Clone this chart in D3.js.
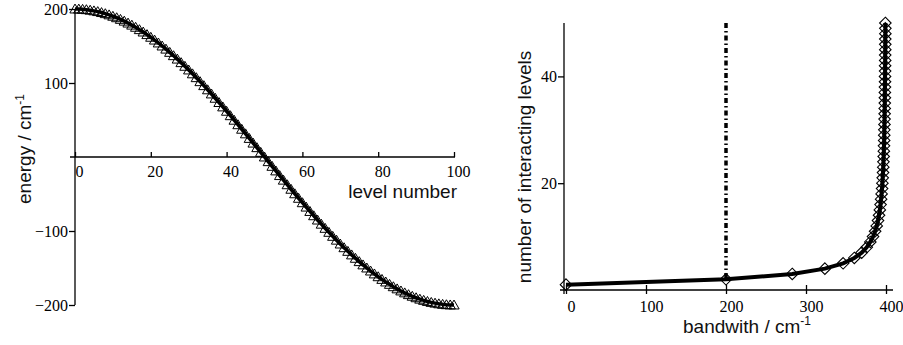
<!DOCTYPE html>
<html>
<head>
<meta charset="UTF-8">
<title>levels</title>
<script src="https://d3js.org/d3.v7.min.js"></script>
<style>
  body { margin: 0; background: #fff; }
  .tick text { font-family: "Liberation Serif", serif; font-size: 16px; fill: #000; }
  .lab { font-family: "Liberation Sans", Arial, sans-serif; font-size: 19px; fill: #111; }
</style>
</head>
<body>
<div id="chart"></div>
<script>
// left panel: level energies
var energyPos = [200, 199.9, 199.6, 199.1, 198.4, 197.5, 196.5, 195.2, 193.7, 192.1,
  190.2, 188.2, 186.0, 183.6, 181.0, 178.2, 175.3, 172.1, 168.9, 165.4,
  161.8, 158.0, 154.1, 150.0, 145.8, 141.4, 136.9, 132.3, 127.5, 122.6,
  117.6, 112.4, 107.2, 101.8, 96.4, 90.8, 85.2, 79.4, 73.6, 67.7,
  61.8, 55.8, 49.7, 43.6, 37.5, 31.3, 25.1, 18.8, 12.6, 6.3, 0];
var energyNeg = [-6.3, -12.6, -18.8, -25.1, -31.3, -37.5, -43.6, -49.7, -55.8, -61.8,
  -67.7, -73.6, -79.4, -85.2, -90.8, -96.4, -101.8, -107.2, -112.4, -117.6,
  -122.6, -127.5, -132.3, -136.9, -141.4, -145.8, -150.0, -154.1, -158.0, -161.8,
  -165.4, -168.9, -172.1, -175.3, -178.2, -181.0, -183.6, -186.0, -188.2, -190.2,
  -192.1, -193.7, -195.2, -196.5, -197.5, -198.4, -199.1, -199.6, -199.9, -200];
var energies = energyPos.concat(energyNeg);
var levelTicks = [0, 20, 40, 60, 80, 100];
var energyTicks = [-200, -100, 100, 200];

// right panel: bandwidth vs number of interacting levels (n = 1..50)
var bandwidths = [0, 200, 282.8, 323.6, 346.4, 360.4, 369.6, 375.9, 380.4, 383.8,
  386.4, 388.4, 390.0, 391.3, 392.3, 393.2, 393.9, 394.5, 395.1, 395.5,
  395.9, 396.3, 396.6, 396.8, 397.1, 397.3, 397.5, 397.7, 397.8, 397.9,
  398.1, 398.2, 398.3, 398.4, 398.5, 398.6, 398.6, 398.7, 398.8, 398.8,
  398.9, 398.9, 399.0, 399.0, 399.1, 399.1, 399.1, 399.2, 399.2, 399.2];
var bandTicks = [0, 100, 200, 300, 400];
var countTicks = [20, 40];
var cutoff = 200;

var svg = d3.select('#chart').append('svg')
  .attr('width', 903).attr('height', 345);

function styleAxis(g) {
  g.select('.domain').remove();
  g.selectAll('.tick line').attr('stroke', '#000').attr('stroke-width', 1.3);
}

// ---------- left ----------
var xL = d3.scaleLinear().domain([0, 100]).range([75, 454]);
var yL = d3.scaleLinear().domain([-200, 200]).range([305, 9]);

svg.append('line').attr('x1', 75).attr('x2', 75).attr('y1', yL(200)).attr('y2', yL(-200))
  .attr('stroke', '#000').attr('stroke-width', 1.3);
svg.append('line').attr('x1', 70).attr('x2', xL(100) + 1).attr('y1', yL(0)).attr('y2', yL(0))
  .attr('stroke', '#000').attr('stroke-width', 1.3);

svg.append('g').attr('transform', 'translate(75,0)')
  .call(d3.axisLeft(yL).tickValues(energyTicks).tickSize(6).tickPadding(1).tickFormat(d3.format('d')))
  .call(styleAxis)
  .selectAll('.tick text').attr('dy', '0.36em');

var gxL = svg.append('g').attr('transform', 'translate(0,' + yL(0) + ')')
  .call(d3.axisBottom(xL).tickValues(levelTicks).tickSize(0).tickPadding(9))
  .call(styleAxis);
gxL.selectAll('.tick line').attr('y1', -5).attr('y2', 0);
gxL.selectAll('.tick text').attr('dx', 4);

var lineL = d3.line().x(function(d, i) { return xL(i); }).y(function(d) { return yL(d); });
svg.append('path').datum(energies).attr('d', lineL)
  .attr('fill', 'none').attr('stroke', '#000').attr('stroke-width', 3.5);
var tri = d3.symbol().type(d3.symbolTriangle).size(46);
svg.append('g').selectAll('path').data(energies).enter().append('path')
  .attr('d', tri)
  .attr('transform', function(d, i) { return 'translate(' + xL(i) + ',' + (yL(d) + 1) + ')'; })
  .attr('fill', 'none').attr('stroke', '#000').attr('stroke-width', 1);

svg.append('text').attr('class', 'lab').attr('x', 457).attr('y', 198)
  .attr('text-anchor', 'end').text('level number');
var ylab = svg.append('text').attr('class', 'lab')
  .attr('transform', 'translate(31,149) rotate(-90)').attr('text-anchor', 'middle');
ylab.append('tspan').text('energy / cm');
ylab.append('tspan').attr('dy', -7).attr('font-size', 12).text('-1');

// ---------- right ----------
var xR = d3.scaleLinear().domain([0, 400]).range([566, 886]);
var yR = d3.scaleLinear().domain([0, 50]).range([290, 23]);

svg.append('line').attr('x1', 564).attr('x2', 564).attr('y1', yR(50)).attr('y2', 294)
  .attr('stroke', '#000').attr('stroke-width', 1.3);
svg.append('line').attr('x1', 560).attr('x2', 893).attr('y1', yR(0)).attr('y2', yR(0))
  .attr('stroke', '#000').attr('stroke-width', 1.3);

svg.append('g').attr('transform', 'translate(564,0)')
  .call(d3.axisLeft(yR).tickValues(countTicks).tickSize(6).tickPadding(1))
  .call(styleAxis);

var gxR = svg.append('g').attr('transform', 'translate(0,' + yR(0) + ')')
  .call(d3.axisBottom(xR).tickValues(bandTicks).tickSize(0).tickPadding(11))
  .call(styleAxis);
gxR.selectAll('.tick line').attr('y1', -5).attr('y2', 4);
gxR.selectAll('.tick text').attr('dx', 5);

svg.append('line').attr('x1', xR(cutoff)).attr('x2', xR(cutoff))
  .attr('y1', yR(50)).attr('y2', yR(2))
  .attr('stroke', '#000').attr('stroke-width', 3.5).attr('stroke-dasharray', '5,3,1.5,3');

var lineR = d3.line().x(function(d) { return xR(d); }).y(function(d, i) { return yR(i + 1); });
svg.append('path').datum(bandwidths).attr('d', lineR)
  .attr('fill', 'none').attr('stroke', '#000').attr('stroke-width', 4);
var dia = d3.symbol().type(d3.symbolDiamond2).size(85);
svg.append('g').selectAll('path').data(bandwidths).enter().append('path')
  .attr('d', dia)
  .attr('transform', function(d, i) { return 'translate(' + xR(d) + ',' + yR(i + 1) + ')'; })
  .attr('fill', 'none').attr('stroke', '#000').attr('stroke-width', 1.1);

var xlabR = svg.append('text').attr('class', 'lab').attr('x', 747).attr('y', 333)
  .attr('text-anchor', 'middle');
xlabR.append('tspan').text('bandwith / cm');
xlabR.append('tspan').attr('dy', -8).attr('font-size', 12).text('-1');
svg.append('text').attr('class', 'lab')
  .attr('transform', 'translate(531,167) rotate(-90)').attr('text-anchor', 'middle')
  .text('number of interacting levels');
</script>
</body>
</html>
